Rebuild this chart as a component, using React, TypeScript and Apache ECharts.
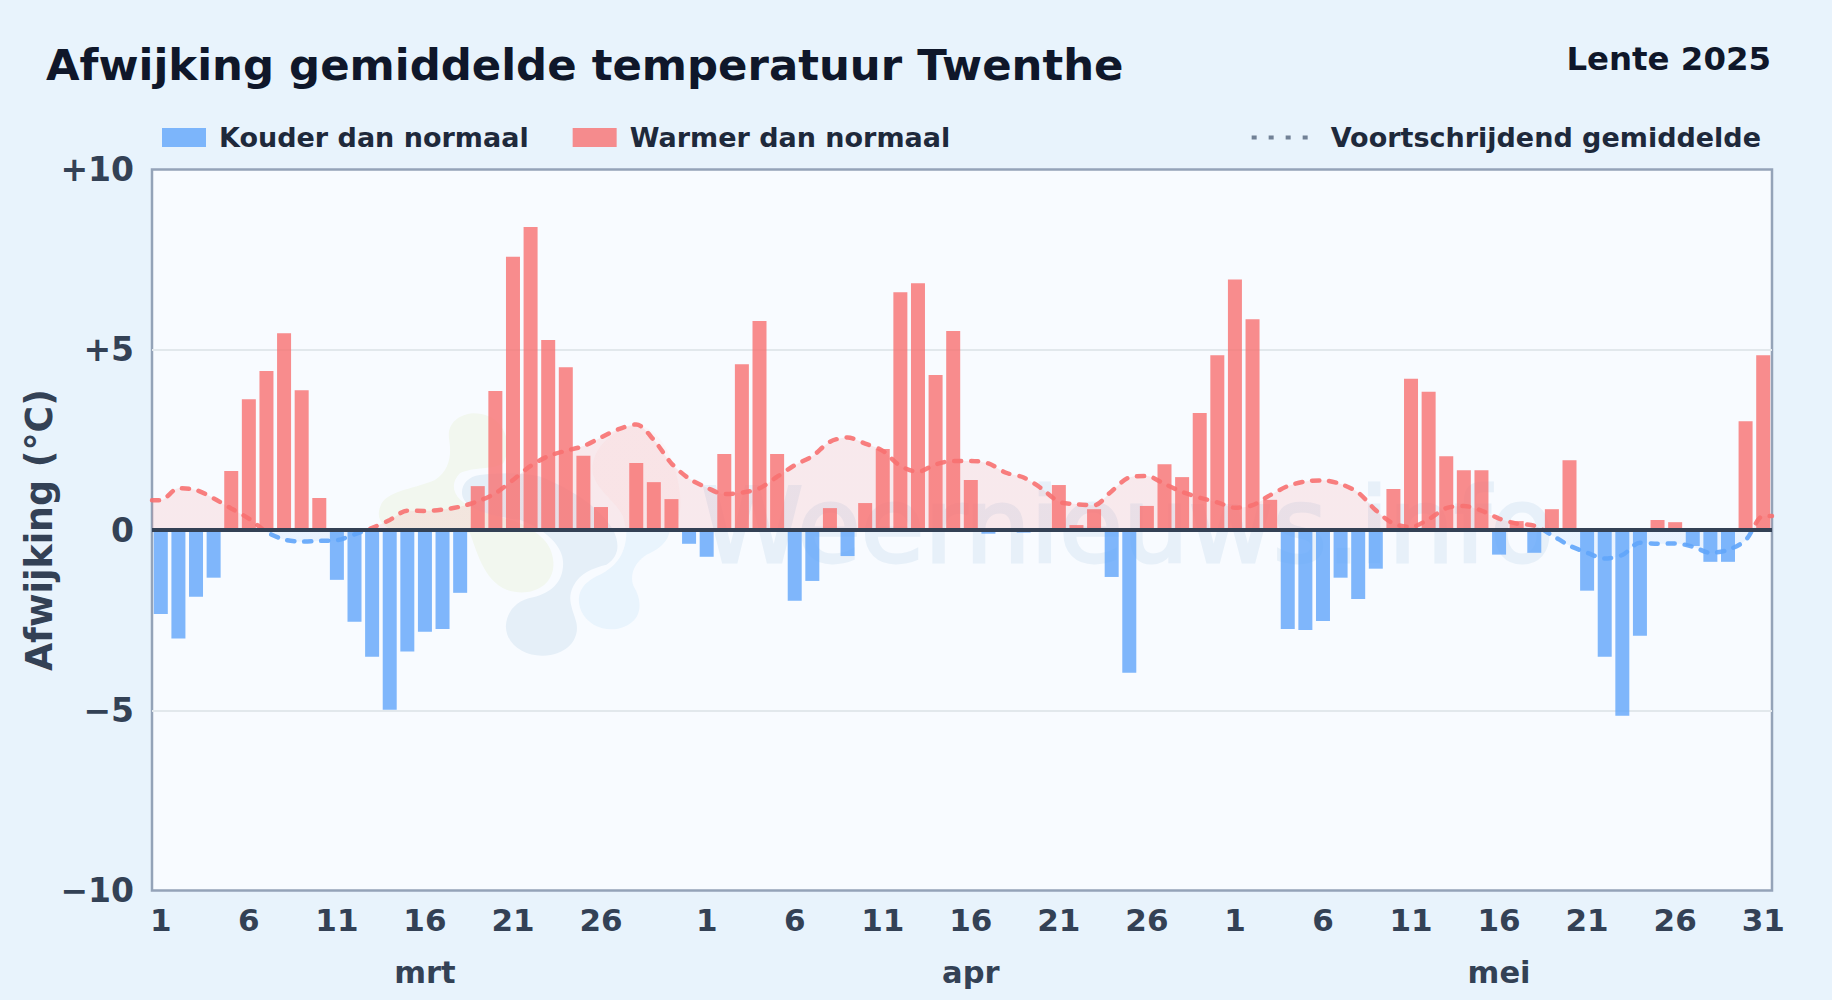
import React, { useEffect, useRef } from "react";
import * as echarts from "echarts";

const monthNames = ["mrt", "apr", "mei"];
const monthLengths = [31, 30, 31];
const tickDays = [1, 6, 11, 16, 21, 26];
const monthLabelDay = 16;
const yTickLabels: Record<string, string> = { "10": "+10", "5": "+5", "0": "0", "-5": "−5", "-10": "−10" };

const titleText = "Afwijking gemiddelde temperatuur Twenthe";
const seasonText = "Lente 2025";
const axisName = "Afwijking (°C)";
const watermarkText = "Weernieuws.info";
const coldName = "Kouder dan normaal";
const warmName = "Warmer dan normaal";
const avgName = "Voortschrijdend gemiddelde";

const marValues = [
  -2.33, -3.01, -1.85, -1.32, 1.64, 3.63, 4.41, 5.46, 3.88, 0.89, -1.38, -2.54, -3.51, -4.98, -3.37, -2.82,
  -2.74, -1.74, 1.22, 3.86, 7.58, 8.41, 5.27, 4.52, 2.06, 0.64, 0, 1.86, 1.33, 0.86, -0.38,
];
const aprValues = [
  -0.74, 2.11, 4.6, 5.8, 2.11, -1.96, -1.41, 0.61, -0.72, 0.75, 2.25, 6.6, 6.85, 4.3, 5.52, 1.39, -0.1, 0,
  -0.07, 0, 1.25, 0.14, 0.58, -1.3, -3.96, 0.67, 1.83, 1.47, 3.25, 4.85,
];
const meiValues = [
  6.95, 5.85, 0.84, -2.74, -2.77, -2.52, -1.32, -1.91, -1.07, 1.14, 4.2, 3.84, 2.05, 1.66, 1.66, -0.68, 0.25,
  -0.63, 0.58, 1.94, -1.68, -3.51, -5.15, -2.93, 0.28, 0.22, -0.44, -0.88, -0.88, 3.02, 4.85,
];
const movingAverage = [
  0.83, 1.16, 1.11, 0.88, 0.6, 0.32, -0.05, -0.26, -0.32, -0.3, -0.28, -0.12, 0.06, 0.28, 0.54, 0.53, 0.57, 0.65,
  0.8, 1.02, 1.39, 1.78, 2.05, 2.2, 2.33, 2.57, 2.8, 2.93, 2.5, 1.85, 1.43, 1.18, 1.0, 1.04, 1.16, 1.48, 1.8, 2.05,
  2.45, 2.57, 2.4, 2.2, 1.78, 1.62, 1.82, 1.92, 1.92, 1.85, 1.59, 1.46, 1.16, 0.79, 0.72, 0.69, 1.08, 1.46, 1.5,
  1.28, 1.06, 0.9, 0.77, 0.62, 0.69, 0.97, 1.22, 1.35, 1.38, 1.28, 1.04, 0.55, 0.18, 0.09, 0.3, 0.61, 0.67, 0.54,
  0.32, 0.18, 0.12, -0.14, -0.43, -0.63, -0.79, -0.69, -0.35, -0.38, -0.37, -0.46, -0.63, -0.55, -0.28, 0.39,
];

const logoGreen =
  "M340 70C290 75 260 105 268 150C275 195 270 240 225 270C170 295 90 300 65 340C45 380 60 410 110 425C200 430 300 425 330 430C350 480 370 570 440 600C510 625 590 590 580 510C575 460 540 430 480 400C420 380 380 370 350 355C290 340 260 290 300 250C340 230 400 240 430 220C460 170 440 70 340 70Z";
const logoSlate =
  "M360 255C320 260 300 290 308 320C320 360 400 380 480 390C560 420 610 470 610 520C610 580 570 610 520 622C470 630 440 665 438 710C440 770 500 800 550 798C620 795 660 750 650 700C640 660 620 630 640 590C660 550 700 535 740 525C780 500 780 460 760 420C720 350 620 290 540 260C480 245 410 250 360 255Z";
const logoSky =
  "M800 425C800 490 770 530 720 555C665 580 645 615 665 665C690 715 750 730 795 710C845 690 850 640 825 595C805 560 825 510 870 490C905 475 925 450 930 425Z";
const logoRose =
  "M830 105C740 120 685 200 700 255C715 305 770 335 790 380L800 425L930 425C950 400 960 385 960 370C975 280 920 110 830 105Z";

const FONT = "DejaVu Sans";
const RED = "#f87171";
const BLUE = "#60a5fa";
const GRID_TOP = 169.6;
const GRID_HEIGHT = 721;

export default function App() {
  const ref = useRef<HTMLDivElement>(null);
  useEffect(() => {
    if (!ref.current) return;
    document.body.style.margin = "0";
    echarts.graphic.registerShape("logoGreen", echarts.graphic.extendPath(logoGreen, {}));
    echarts.graphic.registerShape("logoSlate", echarts.graphic.extendPath(logoSlate, {}));
    echarts.graphic.registerShape("logoSky", echarts.graphic.extendPath(logoSky, {}));
    echarts.graphic.registerShape("logoRose", echarts.graphic.extendPath(logoRose, {}));

    const chart = echarts.init(ref.current, undefined, { renderer: "svg" });
    const values = [...marValues, ...aprValues, ...meiValues];
    const days = monthLengths.flatMap((len) => Array.from({ length: len }, (_, i) => String(i + 1)));
    const monthOfIndex = monthLengths.flatMap((len, m) => Array.from({ length: len }, () => monthNames[m]));
    const avgPoints: number[][] = movingAverage.map((v, i) => [i, v]);
    avgPoints.unshift([-0.5, movingAverage[0]]);
    avgPoints.push([days.length - 0.5, movingAverage[movingAverage.length - 1]]);

    const split = (top: string, bottom: string) => ({
      type: "linear",
      x: 0,
      y: GRID_TOP,
      x2: 0,
      y2: GRID_TOP + GRID_HEIGHT,
      global: true,
      colorStops: [
        { offset: 0, color: top },
        { offset: 0.5, color: top },
        { offset: 0.5, color: bottom },
        { offset: 1, color: bottom },
      ],
    });

    const logo = (type: string, fill: string) => ({
      type,
      x: 360,
      y: 390,
      scaleX: 1 / 3,
      scaleY: 1 / 3,
      z: 1,
      silent: true,
      style: { fill },
    });

    chart.setOption({
      animation: false,
      textStyle: { fontFamily: FONT },
      title: [
        {
          text: titleText,
          left: 46,
          top: 43,
          padding: 0,
          textStyle: { fontFamily: FONT, fontSize: 43.4, fontWeight: "bold", color: "#0f172a" },
        },
        {
          text: seasonText,
          right: 61,
          top: 43,
          padding: 0,
          textStyle: { fontFamily: FONT, fontSize: 32.4, fontWeight: "bold", color: "#0f172a" },
        },
      ],
      legend: [
        {
          data: [coldName, warmName],
          left: 162,
          top: 124,
          padding: 0,
          icon: "rect",
          itemWidth: 44,
          itemHeight: 19,
          itemGap: 44,
          textStyle: { fontFamily: FONT, fontSize: 27, fontWeight: "bold", color: "#1e293b", padding: [0, 0, 0, 8] },
        },
        {
          data: [avgName],
          right: 71,
          top: 124,
          padding: 0,
          itemWidth: 56,
          itemHeight: 19,
          lineStyle: { color: "#64748b", type: [5, 12], width: 4, cap: "butt" },
          itemStyle: { color: "transparent", opacity: 0, borderWidth: 0 },
          textStyle: { fontFamily: FONT, fontSize: 27, fontWeight: "bold", color: "#1e293b", padding: [0, 0, 0, 18] },
        },
      ],
      grid: {
        left: 152,
        top: GRID_TOP,
        width: 1620,
        height: GRID_HEIGHT,
        show: true,
        backgroundColor: "#f8fbff",
        borderColor: "#94a3b8",
        borderWidth: 2.5,
      },
      graphic: {
        elements: [
          logo("logoGreen", "#f2f7ef"),
          logo("logoSlate", "#e5eff8"),
          logo("logoSky", "#e9f4fd"),
          logo("logoRose", "#f9f5f8"),
          {
            type: "text",
            x: 701,
            y: 577,
            z: 1,
            silent: true,
            style: {
              text: watermarkText,
              fontFamily: FONT,
              fontSize: 103.4,
              fill: "#e7f0f9",
              stroke: "#e7f0f9",
              lineWidth: 3,
              verticalAlign: "bottom",
            },
          },
        ],
      },
      xAxis: [
        {
          type: "category",
          position: "bottom",
          data: days,
          axisLine: { show: false },
          axisTick: { show: false },
          splitLine: { show: false },
          axisLabel: {
            margin: 14,
            fontFamily: FONT,
            fontSize: 31,
            fontWeight: "bold",
            color: "#334155",
            interval: (i: number) => tickDays.includes(Number(days[i])) || i === days.length - 1,
          },
        },
        {
          type: "value",
          position: "bottom",
          min: -0.5,
          max: days.length - 0.5,
          show: false,
        },
        {
          type: "category",
          position: "bottom",
          data: monthOfIndex,
          axisLine: { show: false },
          axisTick: { show: false },
          splitLine: { show: false },
          axisLabel: {
            margin: 66,
            fontFamily: FONT,
            fontSize: 30.5,
            fontWeight: "bold",
            color: "#334155",
            interval: (i: number) => Number(days[i]) === monthLabelDay,
          },
        },
      ],
      yAxis: {
        type: "value",
        min: -10,
        max: 10,
        interval: 5,
        name: axisName,
        nameLocation: "middle",
        nameGap: 95,
        nameMoveOverlap: false,
        nameTextStyle: { fontFamily: FONT, fontSize: 36.4, fontWeight: "bold", color: "#334155" },
        axisLine: { show: false },
        axisTick: { show: false },
        splitLine: { showMinLine: false, showMaxLine: false, lineStyle: { color: "#e2e8ec", width: 2 } },
        axisLabel: {
          margin: 18,
          fontFamily: FONT,
          fontSize: 33,
          fontWeight: "bold",
          color: "#334155",
          formatter: (v: number) => yTickLabels[String(v)] ?? String(v),
        },
      },
      series: [
        {
          name: avgName,
          type: "line",
          xAxisIndex: 1,
          data: avgPoints,
          smooth: 0.3,
          showSymbol: false,
          symbol: "none",
          z: 2,
          lineStyle: { color: split(RED, BLUE), width: 4.5, type: [7, 10], cap: "round", opacity: 0.9 },
          itemStyle: { color: "#64748b" },
          areaStyle: { color: split("rgba(248,113,113,0.13)", "rgba(96,165,250,0.1)"), opacity: 1 },
        },
        {
          name: coldName,
          type: "bar",
          stack: "deviation",
          xAxisIndex: 0,
          barWidth: 14,
          z: 3,
          itemStyle: { color: BLUE, opacity: 0.8 },
          data: values.map((v) => (v < 0 ? v : null)),
        },
        {
          name: warmName,
          type: "bar",
          stack: "deviation",
          xAxisIndex: 0,
          barWidth: 14,
          z: 3,
          itemStyle: { color: RED, opacity: 0.8 },
          data: values.map((v) => (v > 0 ? v : null)),
          markLine: {
            silent: true,
            symbol: "none",
            label: { show: false },
            lineStyle: { color: "#334155", width: 4, type: "solid", opacity: 1 },
            data: [{ yAxis: 0 }],
          },
        },
      ],
    });
    return () => chart.dispose();
  }, []);
  return (
    <div
      ref={ref}
      style={{ position: "absolute", left: 0, top: 0, width: 1832, height: 1000, background: "#e8f3fc" }}
    />
  );
}
